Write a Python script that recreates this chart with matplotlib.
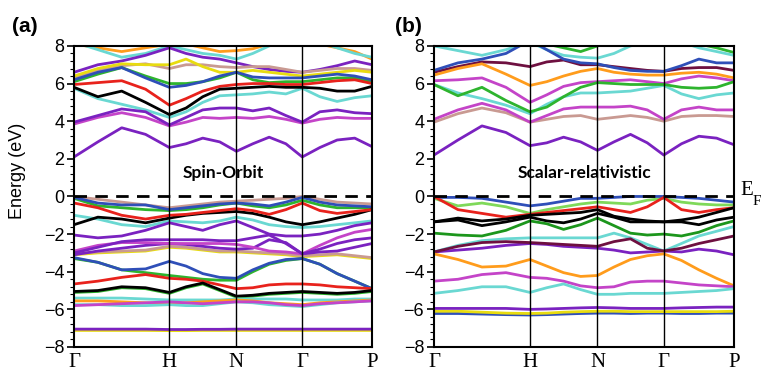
import matplotlib
matplotlib.use("Agg")
import matplotlib.pyplot as plt
from matplotlib.ticker import AutoMinorLocator

# ---------------- data ----------------
k_labels = ["Γ", "H", "N", "Γ", "P"]
k_ticks = [0.0, 0.32, 0.545, 0.766, 1.0]
k = [0.0, 0.08, 0.16, 0.24, 0.32, 0.376, 0.432, 0.489, 0.545,
     0.600, 0.655, 0.711, 0.766, 0.825, 0.883, 0.942, 1.0]

# colours
PURPLE = "#7a22c0"
MAGENTA = "#c444c8"
CYAN = "#6ad8d2"
BLACK = "#000000"
RED = "#e8221c"
BLUE = "#2f4fb8"
GREEN = "#2eb42e"
DGREEN = "#1c961c"
LGREEN = "#7fd95a"
YELLOW = "#e8dc10"
ORANGE = "#ff9c1c"
TAN = "#c99a92"
MAROON = "#6e1040"

# panel (a): spin-orbit bands (eV)
a_bands = [
    (ORANGE,  [8.1, 7.9, 7.7, 7.9, 8.1, 8.1, 7.9, 7.7, 7.75, 7.85, 8.1, 8.2, 8.3, 8.1, 7.9, 7.7, 7.3]),
    (CYAN,    [8.2, 7.8, 7.4, 7.6, 8.0, 7.8, 7.6, 7.5, 7.3, 7.6, 8.0, 8.3, 8.4, 8.2, 7.9, 7.6, 7.4]),
    (PURPLE,  [6.6, 7.0, 7.2, 7.5, 7.9, 7.6, 7.4, 7.3, 7.1, 6.9, 6.75, 6.65, 6.6, 6.75, 6.95, 7.2, 7.0]),
    (TAN,     [6.3, 6.7, 6.95, 7.05, 6.8, 7.0, 7.0, 6.9, 6.85, 6.9, 6.9, 6.75, 6.6, 6.7, 6.8, 6.8, 6.7]),
    (YELLOW,  [6.4, 6.8, 7.05, 7.0, 7.0, 7.3, 6.9, 6.6, 6.6, 6.7, 6.6, 6.5, 6.4, 6.5, 6.6, 6.7, 6.6]),
    (GREEN,   [6.1, 6.5, 6.85, 6.4, 6.0, 6.0, 6.1, 6.3, 6.6, 6.2, 6.05, 6.1, 6.1, 6.2, 6.3, 6.3, 6.1]),
    (BLUE,    [6.2, 6.6, 6.85, 6.3, 5.8, 5.9, 6.1, 6.4, 6.6, 6.35, 6.3, 6.3, 6.3, 6.4, 6.5, 6.4, 6.2]),
    (CYAN,    [5.75, 5.2, 4.9, 4.6, 4.2, 4.5, 5.0, 5.35, 5.4, 5.45, 5.55, 5.45, 5.75, 5.3, 5.05, 5.25, 5.35]),
    (RED,     [5.95, 6.05, 6.15, 5.7, 4.85, 5.2, 5.6, 5.85, 5.95, 6.0, 6.0, 5.95, 5.95, 6.05, 6.15, 6.2, 6.0]),
    (BLACK,   [5.8, 5.3, 5.6, 5.0, 4.35, 4.7, 5.3, 5.7, 5.75, 5.8, 5.85, 5.8, 5.8, 5.75, 5.6, 5.6, 5.85]),
    (MAGENTA, [3.85, 4.2, 4.45, 4.2, 3.75, 3.95, 4.2, 4.15, 4.2, 4.15, 4.25, 4.1, 3.9, 4.1, 4.2, 4.15, 4.15]),
    (PURPLE,  [3.95, 4.3, 4.65, 4.5, 3.8, 4.2, 4.6, 4.7, 4.7, 4.55, 4.7, 4.3, 3.95, 4.5, 4.6, 4.45, 4.4]),
    (PURPLE,  [2.1, 2.9, 3.65, 3.3, 2.6, 2.8, 3.1, 2.9, 2.4, 2.8, 3.15, 2.8, 2.1, 2.6, 3.0, 3.1, 2.65]),
    # valence
    (TAN,     [0.0, -0.15, -0.3, -0.45, -0.6, -0.5, -0.4, -0.3, -0.25, -0.2, -0.15, -0.1, 0.0, -0.15, -0.3, -0.35, -0.4]),
    (GREEN,   [-0.1, -0.5, -0.6, -0.7, -0.75, -0.7, -0.6, -0.45, -0.35, -0.5, -0.6, -0.45, -0.2, -0.45, -0.6, -0.6, -0.6]),
    (BLUE,    [-0.05, -0.35, -0.45, -0.45, -0.7, -0.6, -0.5, -0.4, -0.35, -0.4, -0.5, -0.3, -0.05, -0.3, -0.45, -0.5, -0.55]),
    (CYAN,    [-1.0, -1.2, -1.5, -1.6, -1.3, -1.35, -1.4, -1.3, -1.1, -1.25, -1.5, -1.6, -1.65, -1.6, -1.5, -1.4, -1.3]),
    (BLACK,   [-1.5, -1.1, -1.2, -1.4, -1.15, -1.0, -0.9, -0.85, -0.8, -0.9, -1.1, -1.35, -1.5, -1.35, -1.15, -0.95, -0.7]),
    (RED,     [-0.35, -0.6, -1.0, -1.2, -1.0, -0.95, -0.85, -0.75, -0.65, -0.75, -0.95, -0.7, -0.35, -0.75, -0.9, -0.8, -0.7]),
    (PURPLE,  [-2.05, -2.2, -2.1, -1.8, -1.4, -1.6, -1.8, -1.5, -1.3, -1.65, -2.0, -2.1, -2.1, -2.0, -1.8, -1.55, -1.4]),
    (YELLOW,  [-3.1, -3.0, -2.95, -2.9, -2.7, -2.75, -2.85, -2.95, -2.95, -3.0, -3.05, -3.1, -3.2, -3.15, -3.1, -3.2, -3.3]),
    (TAN,     [-3.05, -2.95, -2.9, -2.85, -2.65, -2.7, -2.8, -2.9, -2.9, -2.95, -3.0, -3.05, -3.15, -3.1, -3.05, -3.15, -3.25]),
    (PURPLE,  [-3.1, -2.9, -2.75, -2.6, -2.5, -2.55, -2.65, -2.75, -2.8, -2.75, -2.3, -2.45, -3.05, -2.95, -2.9, -2.7, -2.5]),
    (MAGENTA, [-2.9, -2.6, -2.45, -2.45, -2.5, -2.5, -2.5, -2.5, -2.55, -2.7, -2.9, -2.95, -3.05, -2.6, -2.2, -1.9, -1.75]),
    (PURPLE,  [-3.0, -2.7, -2.4, -2.3, -2.3, -2.3, -2.3, -2.35, -2.35, -2.2, -2.05, -2.5, -3.05, -2.8, -2.5, -2.3, -2.2]),
    (GREEN,   [-3.3, -3.5, -3.9, -4.05, -4.2, -4.3, -4.4, -4.45, -4.45, -4.0, -3.6, -3.4, -3.3, -3.6, -4.1, -4.5, -4.9]),
    (BLUE,    [-3.25, -3.5, -3.9, -3.85, -3.45, -3.7, -4.1, -4.3, -4.35, -3.9, -3.55, -3.35, -3.3, -3.6, -4.1, -4.5, -4.9]),
    (RED,     [-4.65, -4.5, -4.3, -4.15, -4.35, -4.4, -4.5, -4.7, -4.9, -4.85, -4.7, -4.65, -4.65, -4.7, -4.8, -4.85, -4.9]),
    (GREEN,   [-5.1, -5.05, -4.85, -4.9, -5.15, -4.85, -4.65, -5.0, -5.35, -5.3, -5.2, -5.15, -5.1, -5.15, -5.2, -5.15, -5.05]),
    (BLACK,   [-5.05, -5.0, -4.8, -4.85, -5.1, -4.8, -4.6, -4.95, -5.3, -5.25, -5.15, -5.1, -5.05, -5.1, -5.15, -5.1, -5.0]),
    (CYAN,    [-5.4, -5.4, -5.4, -5.45, -5.5, -5.5, -5.5, -5.5, -5.45, -5.45, -5.45, -5.45, -5.5, -5.5, -5.5, -5.45, -5.45]),
    (ORANGE,  [-5.55, -5.55, -5.6, -5.65, -5.7, -5.65, -5.6, -5.55, -5.5, -5.55, -5.65, -5.7, -5.75, -5.65, -5.6, -5.55, -5.5]),
    (CYAN,    [-5.75, -5.75, -5.8, -5.8, -5.75, -5.8, -5.8, -5.7, -5.6, -5.65, -5.75, -5.8, -5.85, -5.75, -5.65, -5.6, -5.55]),
    (MAGENTA, [-5.8, -5.75, -5.7, -5.65, -5.6, -5.65, -5.7, -5.65, -5.6, -5.6, -5.65, -5.75, -5.8, -5.7, -5.65, -5.6, -5.55]),
    (YELLOW,  [-7.12, -7.12, -7.12, -7.12, -7.13, -7.13, -7.12, -7.12, -7.12, -7.12, -7.12, -7.12, -7.12, -7.12, -7.12, -7.12, -7.12]),
    (PURPLE,  [-7.05, -7.05, -7.05, -7.05, -7.07, -7.07, -7.06, -7.06, -7.05, -7.05, -7.05, -7.05, -7.05, -7.05, -7.05, -7.05, -7.05]),
]

# panel (b): scalar-relativistic bands (eV)
b_bands = [
    (GREEN,   [8.3, 8.2, 8.1, 8.1, 8.3, 8.1, 7.9, 7.7, 8.0, 8.3, 8.4, 8.4, 8.4, 8.3, 8.1, 7.9, 7.65]),
    (CYAN,    [8.0, 7.75, 7.5, 7.8, 8.2, 7.8, 7.5, 7.4, 7.35, 7.6, 8.0, 8.2, 8.4, 8.2, 7.9, 7.7, 7.5]),
    (MAROON,  [6.6, 6.9, 7.15, 7.1, 6.9, 7.15, 7.25, 7.0, 7.0, 6.9, 6.8, 6.7, 6.65, 6.8, 6.85, 6.85, 6.7]),
    (BLUE,    [6.7, 7.1, 7.3, 7.6, 8.3, 7.8, 7.3, 7.1, 7.05, 6.85, 6.7, 6.65, 6.65, 6.95, 7.3, 7.1, 7.1]),
    (ORANGE,  [6.45, 6.8, 7.05, 6.5, 5.9, 6.1, 6.4, 6.65, 6.8, 6.6, 6.5, 6.45, 6.45, 6.55, 6.6, 6.5, 6.3]),
    (MAGENTA, [6.15, 6.2, 6.3, 5.8, 5.0, 5.4, 5.85, 6.05, 6.1, 6.15, 6.2, 6.1, 6.0, 6.25, 6.4, 6.3, 6.15]),
    (CYAN,    [5.95, 5.5, 5.2, 4.85, 4.4, 4.9, 5.3, 5.5, 5.5, 5.55, 5.6, 5.75, 5.9, 5.45, 5.2, 5.4, 5.5]),
    (GREEN,   [5.95, 5.35, 5.8, 5.1, 4.5, 4.75, 5.3, 5.8, 6.05, 6.0, 5.95, 5.95, 5.95, 5.8, 5.75, 5.8, 6.1]),
    (TAN,     [3.95, 4.4, 4.7, 4.45, 3.95, 4.1, 4.25, 4.3, 4.1, 4.2, 4.3, 4.2, 4.0, 4.25, 4.3, 4.3, 4.25]),
    (MAGENTA, [4.1, 4.6, 4.95, 4.6, 3.95, 4.3, 4.65, 4.75, 4.75, 4.75, 4.8, 4.6, 4.1, 4.6, 4.75, 4.6, 4.6]),
    (PURPLE,  [2.2, 3.0, 3.75, 3.4, 2.7, 2.85, 3.15, 2.9, 2.45, 2.9, 3.3, 2.85, 2.2, 2.8, 3.2, 3.1, 2.75]),
    # valence
    (LGREEN,  [-0.1, -0.5, -0.35, -0.55, -0.9, -0.7, -0.55, -0.4, -0.3, -0.35, -0.4, -0.2, -0.1, -0.3, -0.4, -0.45, -0.45]),
    (BLUE,    [-0.05, -0.05, -0.1, -0.3, -0.5, -0.4, -0.25, -0.1, -0.1, -0.05, 0.0, 0.0, 0.0, -0.05, -0.1, -0.2, -0.3]),
    (RED,     [0.0, -0.7, -0.9, -1.1, -0.95, -0.85, -0.75, -0.65, -0.55, -0.7, -0.85, -0.55, -0.05, -0.7, -0.85, -0.7, -0.6]),
    (BLACK,   [-1.35, -1.25, -1.55, -1.35, -1.1, -1.3, -1.4, -1.2, -0.9, -1.1, -1.35, -1.35, -1.35, -1.35, -1.5, -1.25, -1.1]),
    (BLACK,   [-1.35, -1.15, -1.3, -1.2, -1.0, -0.95, -0.9, -0.85, -0.7, -1.05, -1.2, -1.3, -1.35, -1.25, -1.1, -0.85, -0.6]),
    (DGREEN,  [-1.95, -2.05, -2.1, -1.8, -1.3, -1.45, -1.75, -1.5, -1.15, -1.55, -1.95, -2.05, -2.0, -2.1, -1.9, -1.55, -1.3]),
    (CYAN,    [-2.95, -2.6, -2.35, -2.25, -2.2, -2.2, -2.2, -2.2, -2.2, -1.95, -2.2, -2.55, -2.9, -2.5, -2.1, -1.85, -1.6]),
    (PURPLE,  [-2.95, -2.85, -2.75, -2.6, -2.5, -2.55, -2.65, -2.7, -2.75, -2.85, -3.0, -2.95, -2.9, -2.95, -2.8, -2.9, -3.1]),
    (MAROON,  [-2.95, -2.65, -2.45, -2.4, -2.45, -2.5, -2.55, -2.6, -2.65, -2.4, -2.25, -2.75, -2.9, -2.75, -2.5, -2.3, -2.1]),
    (ORANGE,  [-3.05, -3.35, -3.75, -3.7, -3.35, -3.7, -4.05, -4.25, -4.2, -3.75, -3.35, -3.15, -3.05, -3.4, -3.9, -4.35, -4.75]),
    (MAGENTA, [-4.5, -4.4, -4.15, -4.05, -4.3, -4.35, -4.5, -4.75, -4.85, -4.8, -4.55, -4.5, -4.5, -4.6, -4.7, -4.75, -4.8]),
    (CYAN,    [-5.15, -5.0, -4.8, -4.8, -5.1, -4.85, -4.65, -4.95, -5.2, -5.2, -5.15, -5.15, -5.15, -5.1, -5.05, -5.0, -4.9]),
    (BLUE,    [-6.22, -6.22, -6.25, -6.28, -6.3, -6.28, -6.25, -6.22, -6.2, -6.2, -6.22, -6.2, -6.2, -6.22, -6.22, -6.2, -6.2]),
    (YELLOW,  [-6.1, -6.1, -6.15, -6.2, -6.22, -6.2, -6.15, -6.12, -6.1, -6.1, -6.12, -6.12, -6.12, -6.12, -6.12, -6.12, -6.1]),
    (PURPLE,  [-5.95, -5.95, -5.95, -5.95, -6.0, -5.98, -5.95, -5.92, -5.9, -5.92, -5.95, -5.95, -5.95, -5.92, -5.9, -5.88, -5.88]),
]

y_ticks = [-8, -6, -4, -2, 0, 2, 4, 6, 8]

# ---------------- figure ----------------
fig = plt.figure(figsize=(7.64, 3.74), dpi=100)
ax_a = fig.add_axes([0.0969, 0.0722, 0.390, 0.805])
ax_b = fig.add_axes([0.568, 0.0722, 0.3927, 0.805])

def draw(ax, bands, title, panel, panel_x):
    for col, vals in bands:
        ax.plot(k, vals, color=col, lw=2.0, solid_joinstyle="round",
                solid_capstyle="round", zorder=2)
    for kt in k_ticks[1:-1]:
        ax.axvline(kt, color="black", lw=1.0, zorder=3)
    ax.axhline(0, color="black", lw=2.0, ls=(0, (4.5, 3.0)), zorder=4)
    ax.set_xlim(0, 1)
    ax.set_ylim(-8, 8)
    ax.set_xticks(k_ticks)
    ax.set_xticklabels(k_labels, fontfamily="Liberation Serif", fontsize=15)
    ax.tick_params(axis="x", length=0, pad=4)
    ax.set_yticks(y_ticks)
    ax.yaxis.set_minor_locator(AutoMinorLocator(5))
    ax.tick_params(axis="y", which="major", length=5, width=1.2,
                   labelsize=13, pad=2, direction="out")
    ax.tick_params(axis="y", which="minor", length=3, width=0.8, direction="out")
    for lab in ax.get_yticklabels():
        lab.set_fontfamily("Liberation Sans")
    for sp in ax.spines.values():
        sp.set_linewidth(1.5)
    ax.text(0.5, 1.25, title, fontsize=12.5, fontweight="bold",
            fontfamily="Lato", ha="center", va="center", zorder=5)
    ax.text(panel_x, 1.063, panel, transform=ax.transAxes, fontsize=15,
            fontweight="bold", fontfamily="Liberation Sans",
            ha="left", va="center")

draw(ax_a, a_bands, "Spin-Orbit", "(a)", -0.208)
draw(ax_b, b_bands, "Scalar-relativistic", "(b)", -0.13)

ax_a.set_ylabel("Energy (eV)", fontsize=13, fontfamily="Liberation Sans")
ax_a.yaxis.set_label_coords(-0.16, 0.585)
ax_b.text(1.02, 0.3, "E", fontfamily="Liberation Serif", fontsize=15,
          transform=ax_b.get_yaxis_transform(), ha="left", va="center")
ax_b.text(1.062, -0.25, "F", fontfamily="Liberation Serif", fontsize=11,
          transform=ax_b.get_yaxis_transform(), ha="left", va="center")

fig.savefig("out.png", dpi=100)
